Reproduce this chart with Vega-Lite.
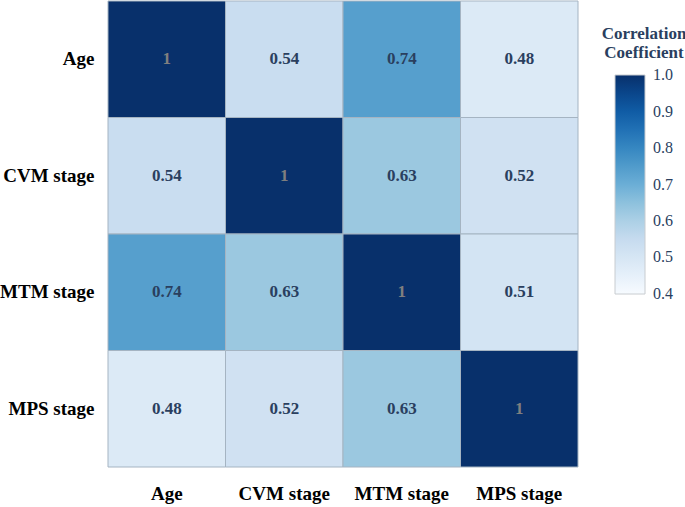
{
  "$schema": "https://vega.github.io/schema/vega-lite/v6.json",
  "width": 470,
  "height": 466,
  "autosize": "none",
  "padding": {"left": 108, "top": 1, "right": 107, "bottom": 40},
  "config": {"view": {"stroke": null}, "font": "Liberation Serif"},
  "data": {
    "values": [
      {"row": "Age", "col": "Age", "value": 1},
      {"row": "Age", "col": "CVM stage", "value": 0.54},
      {"row": "Age", "col": "MTM stage", "value": 0.74},
      {"row": "Age", "col": "MPS stage", "value": 0.48},
      {"row": "CVM stage", "col": "Age", "value": 0.54},
      {"row": "CVM stage", "col": "CVM stage", "value": 1},
      {"row": "CVM stage", "col": "MTM stage", "value": 0.63},
      {"row": "CVM stage", "col": "MPS stage", "value": 0.52},
      {"row": "MTM stage", "col": "Age", "value": 0.74},
      {"row": "MTM stage", "col": "CVM stage", "value": 0.63},
      {"row": "MTM stage", "col": "MTM stage", "value": 1},
      {"row": "MTM stage", "col": "MPS stage", "value": 0.51},
      {"row": "MPS stage", "col": "Age", "value": 0.48},
      {"row": "MPS stage", "col": "CVM stage", "value": 0.52},
      {"row": "MPS stage", "col": "MTM stage", "value": 0.63},
      {"row": "MPS stage", "col": "MPS stage", "value": 1}
    ]
  },
  "encoding": {
    "x": {
      "field": "col", "type": "nominal",
      "sort": ["Age", "CVM stage", "MTM stage", "MPS stage"],
      "scale": {"paddingInner": 0, "paddingOuter": 0},
      "axis": {"title": null, "orient": "bottom", "labelAngle": 0, "labelFontSize": 19, "labelFontWeight": "bold", "labelColor": "#000000", "labelFont": "Liberation Serif", "labelPadding": 17, "domain": false, "ticks": false, "grid": false}
    },
    "y": {
      "field": "row", "type": "nominal",
      "sort": ["Age", "CVM stage", "MTM stage", "MPS stage"],
      "scale": {"paddingInner": 0, "paddingOuter": 0},
      "axis": {"title": null, "labelFontSize": 19, "labelFontWeight": "bold", "labelColor": "#000000", "labelFont": "Liberation Serif", "labelPadding": 14, "domain": false, "ticks": false, "grid": false}
    }
  },
  "layer": [
    {
      "mark": {"type": "rect", "stroke": "#a5b4c2", "strokeWidth": 1},
      "encoding": {
        "color": {
          "field": "value", "type": "quantitative",
          "scale": {
            "type": "linear",
            "domain": [0.3999, 0.475, 0.55, 0.625, 0.7, 0.775, 0.85, 0.925, 1.0001],
            "range": ["rgb(247,251,255)", "rgb(222,235,247)", "rgb(198,219,239)", "rgb(158,202,225)", "rgb(107,174,214)", "rgb(66,146,198)", "rgb(33,113,181)", "rgb(8,81,156)", "rgb(8,48,107)"]
          },
          "legend": {
            "orient": "none", "legendX": 494, "legendY": 25,
            "direction": "vertical",
            "title": ["Correlation", "Coefficient"],
            "titleFont": "Liberation Serif", "titleFontSize": 17, "titleFontWeight": "bold", "titleColor": "#2a3f5f",
            "titleLineHeight": 19, "titleAnchor": "middle", "titleAlign": "center", "titlePadding": 13,
            "gradientLength": 219, "gradientThickness": 30,
            "gradientStrokeColor": "#c8ccd0", "gradientStrokeWidth": 1,
            "labelFont": "Liberation Serif", "labelFontSize": 16, "labelColor": "#2a3f5f", "labelOffset": 8,
            "labelOverlap": false,
            "values": [0.4, 0.5, 0.6, 0.7, 0.8, 0.9, 1.0], "format": ".1f"
          }
        }
      }
    },
    {
      "mark": {"type": "text", "font": "Liberation Serif", "fontSize": 17, "fontWeight": "bold"},
      "encoding": {
        "text": {"field": "value", "type": "nominal"},
        "color": {"condition": {"test": "datum.value == 1", "value": "#7f7f7f"}, "value": "#2a3f5f"}
      }
    }
  ]
}
